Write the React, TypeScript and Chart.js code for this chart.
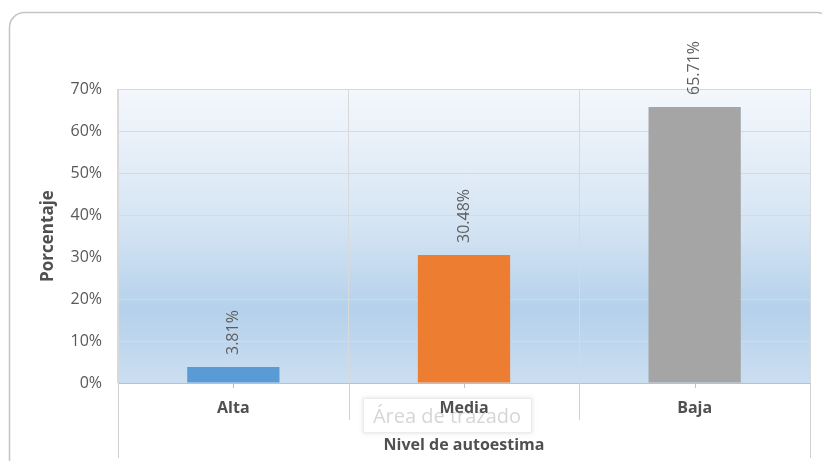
import React, { useEffect, useRef } from "react";
import { Chart, registerables } from "chart.js";

Chart.register(...registerables);

const categories = ["Alta", "Media", "Baja"];
const values = [3.81, 30.48, 65.71];
const valueLabels = ["3.81%", "30.48%", "65.71%"];
const barColors = ["#5b9bd5", "#ed7d31", "#a5a5a5"];
const yTickStep = 10;
const yMax = 70;
const yTitle = "Porcentaje";
const xTitle = "Nivel de autoestima";
const overlayText = "Área de trazado";

const FONT = "'Open Sans', Lato, sans-serif";

const decorPlugin = {
  id: "decor",
  beforeDraw(chart: any) {
    const { ctx, chartArea } = chart;
    ctx.save();
    // outer rounded border
    ctx.strokeStyle = "#c4c4c4";
    ctx.lineWidth = 1.5;
    ctx.beginPath();
    (ctx as any).roundRect(9.5, 12.5, 822, 462, 15);
    ctx.stroke();
    // plot gradient
    const g = ctx.createLinearGradient(0, chartArea.top, 0, chartArea.bottom);
    g.addColorStop(0, "#f4f7fc");
    g.addColorStop(0.45, "#d6e5f4");
    g.addColorStop(0.75, "#b5d1eb");
    g.addColorStop(1, "#cbdef1");
    ctx.fillStyle = g;
    ctx.fillRect(chartArea.left, chartArea.top, chartArea.right - chartArea.left, chartArea.bottom - chartArea.top);
    // overlay box (tooltip artifact)
    ctx.shadowColor = "rgba(0,0,0,0.12)";
    ctx.shadowBlur = 4;
    ctx.fillStyle = "#ffffff";
    ctx.fillRect(363, 398, 169, 35);
    ctx.shadowBlur = 0;
    ctx.strokeStyle = "#ececec";
    ctx.lineWidth = 1;
    ctx.strokeRect(363.5, 398.5, 168, 34);
    ctx.fillStyle = "#d6d6d6";
    ctx.font = `20px ${FONT}`;
    ctx.textAlign = "center";
    ctx.textBaseline = "middle";
    ctx.fillText(overlayText, 447, 417);
    ctx.restore();
  },
  afterDraw(chart: any) {
    const { ctx, chartArea, scales } = chart;
    const xs = scales.x;
    const ys = scales.y;
    ctx.save();
    const n = categories.length;
    const half = (xs.getPixelForValue(1) - xs.getPixelForValue(0)) / 2;
    // separators below axis
    ctx.strokeStyle = "#d0d0d0";
    ctx.lineWidth = 1;
    for (let i = 0; i <= n; i++) {
      const x = Math.round(xs.getPixelForValue(0) - half + i * 2 * half) + 0.5;
      const bottom = i === 0 || i === n ? 458 : 420;
      ctx.beginPath();
      ctx.moveTo(x, chartArea.bottom);
      ctx.lineTo(x, bottom);
      ctx.stroke();
    }
    // center ticks
    ctx.strokeStyle = "#bfbfbf";
    for (let i = 0; i < n; i++) {
      const x = Math.round(xs.getPixelForValue(i)) + 0.5;
      ctx.beginPath();
      ctx.moveTo(x, chartArea.bottom);
      ctx.lineTo(x, chartArea.bottom + 5);
      ctx.stroke();
    }
    // data labels
    ctx.fillStyle = "#5f5f5f";
    ctx.font = `16px ${FONT}`;
    ctx.textAlign = "left";
    ctx.textBaseline = "middle";
    for (let i = 0; i < n; i++) {
      const x = xs.getPixelForValue(i);
      const y = ys.getPixelForValue(values[i]) - 12;
      ctx.save();
      ctx.translate(x, y);
      ctx.rotate(-Math.PI / 2);
      ctx.fillText(valueLabels[i], 0, 0);
      ctx.restore();
    }
    // axis titles
    ctx.fillStyle = "#505050";
    ctx.font = `bold 16px ${FONT}`;
    ctx.textAlign = "center";
    ctx.fillText(xTitle, 464, 445);
    ctx.save();
    ctx.translate(48, 236);
    ctx.rotate(-Math.PI / 2);
    ctx.font = `bold 17px ${FONT}`;
    ctx.fillText(yTitle, 0, 0);
    ctx.restore();
    ctx.restore();
  },
};

export default function App() {
  const ref = useRef<HTMLCanvasElement>(null);
  useEffect(() => {
    if (!ref.current) return;
    const chart = new Chart(ref.current, {
      type: "bar",
      data: {
        labels: categories,
        datasets: [
          {
            data: values,
            backgroundColor: barColors,
            borderWidth: 0,
            barPercentage: 0.4,
            categoryPercentage: 1,
          },
        ],
      },
      options: {
        animation: false,
        responsive: false,
        layout: { padding: { left: 0, top: 89, right: 12, bottom: 0 } },
        plugins: { legend: { display: false }, tooltip: { enabled: false }, title: { display: false } },
        scales: {
          x: {
            afterFit: (s: any) => {
              s.height = 78;
            },
            grid: { color: "#d9d9d9", drawTicks: false, offset: true },
            border: { color: "#bfbfbf", width: 1 },
            ticks: { color: "#505050", font: { family: FONT, size: 16, weight: "bold" }, padding: 16 },
          },
          y: {
            min: 0,
            max: yMax,
            afterFit: (s: any) => {
              s.width = 118;
            },
            grid: { color: "#d9d9d9", drawTicks: false },
            border: { color: "#d9d9d9" },
            ticks: {
              stepSize: yTickStep,
              color: "#595959",
              font: { family: FONT, size: 16 },
              padding: 16,
              callback: (v: any) => `${v}%`,
            },
          },
        },
      },
      plugins: [decorPlugin],
    });
    return () => chart.destroy();
  }, []);
  return (
    <div style={{ position: "absolute", left: 0, top: 0, width: 822, height: 461, background: "#fff" }}>
      <canvas ref={ref} width={822} height={461} />
    </div>
  );
}
